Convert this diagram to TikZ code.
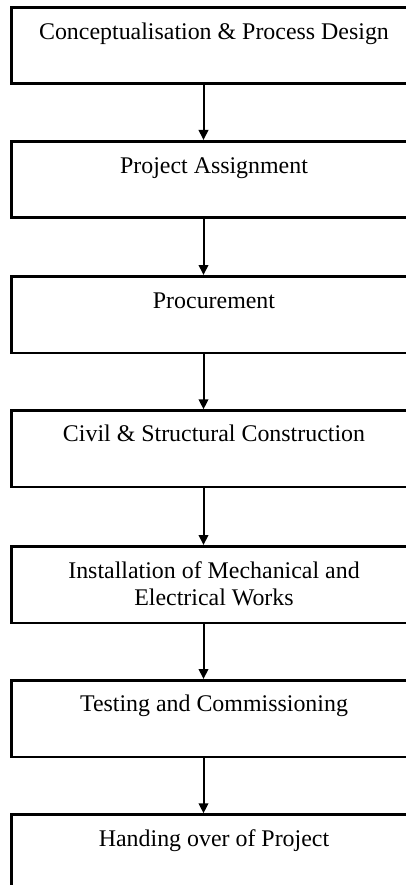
\documentclass[tikz,border=0pt]{standalone}
\usepackage{fontspec}
\setmainfont{Liberation Serif}
\usetikzlibrary{arrows.meta,calc}
\begin{document}
\begin{tikzpicture}[x=1pt,y=1pt,
  stagebox/.style={draw=black,line width=2.6pt,rectangle,minimum width=404.6pt,minimum height=76.5pt,inner sep=0pt,anchor=north},
  stagetext/.style={anchor=base,inner sep=0pt,font=\fontsize{23.9}{26.7}\selectfont},
  flow/.style={line width=2pt,-{Triangle[length=10pt,width=9.5pt]}}]
\clip (0,0) rectangle (406,-885);
\fill[white] (0,0) rectangle (406,-885);
\coordinate (ax) at (203.5,0);
\node[stagebox] (b1) at (214,-6) {};
\node[stagebox] (b2) at (214,-140) {};
\node[stagebox] (b3) at (214,-275) {};
\node[stagebox] (b4) at (214,-409.3) {};
\node[stagebox] (b5) at (214,-545) {};
\node[stagebox] (b6) at (214,-679) {};
\node[stagebox] (b7) at (214,-813.3) {};
\node[stagetext] (t1) at ($(b1.north)+(0,-33.3)$) {Conceptualisation \& Process Design};
\node[stagetext] (t2) at ($(b2.north)+(0,-33.3)$) {Project Assignment};
\node[stagetext] (t3) at ($(b3.north)+(0,-33.3)$) {Procurement};
\node[stagetext] (t4) at ($(b4.north)+(0,-32.6)$) {Civil \& Structural Construction};
\node[stagetext] (t5) at ($(b5.north)+(0,-33.3)$) {\vtop{\baselineskip=26.7pt\halign{\hfil#\hfil\cr Installation of Mechanical and\cr Electrical Works\cr}}};
\node[stagetext] (t6) at ($(b6.north)+(0,-32.7)$) {Testing and Commissioning};
\node[stagetext] (t7) at ($(b7.north)+(0,-33.4)$) {Handing over of Project};
\draw[flow] (b1.south -| ax) -- (b2.north -| ax);
\draw[flow] (b2.south -| ax) -- (b3.north -| ax);
\draw[flow] (b3.south -| ax) -- (b4.north -| ax);
\draw[flow] (b4.south -| ax) -- (b5.north -| ax);
\draw[flow] (b5.south -| ax) -- (b6.north -| ax);
\draw[flow] (b6.south -| ax) -- (b7.north -| ax);
\end{tikzpicture}
\end{document}
